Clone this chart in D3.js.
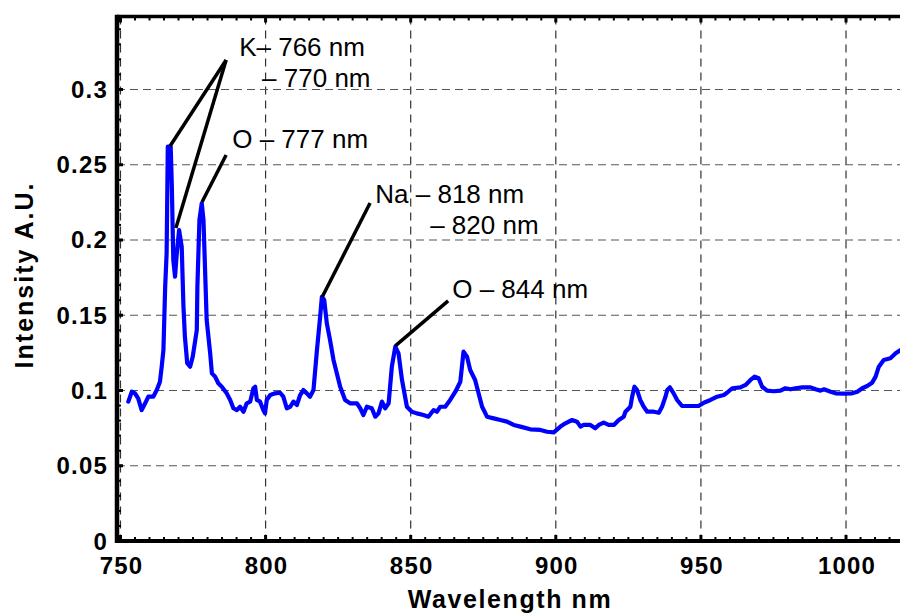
<!DOCTYPE html>
<html><head><meta charset="utf-8">
<script src="https://cdn.jsdelivr.net/npm/d3@7"></script>
<style>body{margin:0;background:#fff}svg{display:block}</style>
</head><body>
<svg id="c" width="900" height="613"></svg>
<script>
const wavelength = [752.7,753.9,755.0,756.1,757.3,758.5,759.6,761.3,762.5,763.6,764.2,764.8,765.4,765.9,766.3,767.3,767.7,768.2,768.8,769.4,770.2,771.1,771.7,772.2,773.0,774.0,774.9,776.3,776.5,777.2,778.0,778.6,779.7,780.9,781.5,
782.6,783.7,784.9,786.6,787.8,788.9,790.1,791.2,792.4,793.5,794.7,795.8,796.4,797.0,798.1,799.2,799.8,800.4,801.6,803.3,805.0,806.1,807.3,808.5,809.6,810.8,811.9,813.0,814.2,815.3,816.5,
817.7,818.8,819.4,820.2,821.1,822.2,823.4,825.7,827.4,829.1,831.5,832.6,833.7,834.9,836.6,837.8,838.9,840.1,841.2,842.4,843.5,844.7,845.8,847.0,848.7,850.4,852.1,854.4,856.1,857.9,859.0,860.2,861.9,863.6,865.4,867.1,868.2,869.4,870.5,872.2,874.6,876.3,878.6,880.9,883.2,885.5,887.8,891.2,894.7,897.0,
899.3,901.6,903.3,905.6,907.3,908.5,909.6,911.9,913.6,914.8,916.5,918.2,920.0,921.7,923.4,924.0,925.7,926.3,927.1,928.0,929.1,930.3,931.5,933.8,935.5,936.6,937.8,938.4,939.3,940.6,941.8,943.5,946.4,949.2,951.0,953.3,955.6,957.9,959.0,960.8,963.6,965.4,967.1,968.5,969.9,971.1,972.8,975.1,977.4,979.1,980.9,982.6,984.9,987.8,989.5,991.2,992.4,994.7,996.4,999.3,1002.1,1003.9,1005.6,1007.3,1009.0,1010.2,1011.3,1013.0,1015.3,1017.1,1018.8,1020.5];
const intensity = [0.0926,0.0992,0.0981,0.0948,0.0870,0.0915,0.0959,0.0959,0.1003,0.1058,0.1158,0.1269,0.1690,0.1912,0.2620,0.2620,0.2354,0.1867,0.1756,0.1912,0.2066,0.1955,0.1557,0.1357,0.1181,0.1158,0.1225,0.1402,0.1690,0.2133,0.2244,0.2133,0.1468,0.1247,0.1114,
0.1092,0.1048,0.1025,0.0981,0.0937,0.0882,0.0870,0.0892,0.0859,0.0915,0.0926,0.1015,0.1025,0.0937,0.0926,0.0870,0.0848,0.0937,0.0970,0.0981,0.0985,0.0959,0.0882,0.0892,0.0926,0.0904,0.0970,0.1003,0.0981,0.0959,0.1003,
0.1269,0.1490,0.1623,0.1601,0.1446,0.1336,0.1203,0.1025,0.0937,0.0915,0.0915,0.0882,0.0837,0.0892,0.0882,0.0826,0.0848,0.0926,0.0882,0.0915,0.1158,0.1291,0.1247,0.1070,0.0892,0.0859,0.0848,0.0837,0.0826,0.0870,0.0859,0.0892,0.0892,0.0937,0.0992,0.1058,0.1258,0.1225,0.1136,0.1070,0.0892,0.0826,0.0815,0.0804,0.0793,0.0771,0.0760,0.0742,0.0738,0.0726,
0.0722,0.0760,0.0782,0.0804,0.0793,0.0760,0.0771,0.0771,0.0749,0.0771,0.0786,0.0771,0.0771,0.0804,0.0826,0.0859,0.0892,0.0959,0.1025,0.1003,0.0937,0.0892,0.0859,0.0859,0.0852,0.0892,0.0959,0.1003,0.1021,0.0981,0.0937,0.0897,0.0897,0.0897,0.0919,0.0937,0.0959,0.0970,0.0985,0.1015,0.1021,0.1037,0.1070,0.1092,0.1081,0.1025,0.0999,0.0995,0.0999,0.1015,0.1008,0.1015,0.1021,0.1021,0.1008,0.0999,0.1008,0.0992,0.0981,0.0979,0.0981,0.0992,0.1015,0.1030,0.1052,0.1092,0.1158,0.1203,0.1214,0.1247,0.1269,0.1285];

const xTicks = [750,800,850,900,950,1000];
const yTicks = [0,0.05,0.1,0.15,0.2,0.25,0.3];
const yTickLabels = ["0","0.05","0.1","0.15","0.2","0.25","0.3"];

// annotations: leader lines [x1,y1,x2,y2] in data units, and label texts
const leaderLines = [
  [767.1,0.2625,786.4,0.3196],
  [769.1,0.2080,786.4,0.3196],
  [778.1,0.2252,786.4,0.2565],
  [819.5,0.1621,836.0,0.2246],
  [844.7,0.1296,862.9,0.1595]
];
const labelTexts = ["K\u2013 766 nm","\u2013 770 nm","O \u2013 777 nm","Na \u2013 818 nm","\u2013 820 nm","O \u2013 844 nm"];
const labelPos = [[790.9,0.3223],[798.8,0.3017],[788.5,0.2611],[837.8,0.2246],[856.7,0.2040],[864.3,0.1615]];

(function(){
const svg = d3.select("#c");
const L = 117, R = 900, T = 16.5, B = 541;
const x = d3.scaleLinear().domain([748.8, 1018.6]).range([L, R]);
const y = d3.scaleLinear().domain([0, 0.3485]).range([B, T]);

svg.append("defs").append("clipPath").attr("id","clip")
  .append("rect").attr("x",L).attr("y",T).attr("width",R-L+5).attr("height",B-T);

// grid
const grid = svg.append("g");
grid.append("g").selectAll("line").data(xTicks).join("line")
  .attr("x1",d=>x(d)).attr("x2",d=>x(d)).attr("y1",T).attr("y2",B)
  .attr("stroke","#333").attr("stroke-width",1.2).attr("stroke-dasharray","8,6");
grid.append("g").selectAll("line").data(yTicks.slice(1)).join("line")
  .attr("x1",L).attr("x2",R).attr("y1",d=>y(d)).attr("y2",d=>y(d))
  .attr("stroke","#555").attr("stroke-width",1.2).attr("stroke-dasharray","8,5");

// minor ticks
const xMinor = d3.range(750, 1020, 5);
const yMinor = d3.range(0, 0.345, 0.01);
const tk = svg.append("g").attr("stroke","#000");
tk.append("g").selectAll("line").data(xMinor).join("line")
  .attr("x1",d=>x(d)).attr("x2",d=>x(d)).attr("y1",B).attr("y2",d=>B-(d%50===0?6:4))
  .attr("stroke-width",d=>d%50===0?3:2);
tk.append("g").selectAll("line").data(xMinor).join("line")
  .attr("x1",d=>x(d)).attr("x2",d=>x(d)).attr("y1",T).attr("y2",d=>T+(d%50===0?6:4))
  .attr("stroke-width",d=>d%50===0?3:2);
tk.append("g").selectAll("line").data(yMinor).join("line")
  .attr("x1",L).attr("x2",(d,i)=>L+(i%5===0?6:4)).attr("y1",d=>y(d)).attr("y2",d=>y(d))
  .attr("stroke-width",(d,i)=>i%5===0?3:2);

// data line
svg.append("path").datum(wavelength.map((w,i)=>[w,intensity[i]]))
  .attr("clip-path","url(#clip)")
  .attr("fill","none").attr("stroke","#0000ff").attr("stroke-width",4.2)
  .attr("stroke-linejoin","round").attr("stroke-linecap","round")
  .attr("d", d3.line().x(d=>x(d[0])).y(d=>y(d[1])));

// axes frame
svg.append("line").attr("x1",L).attr("x2",R).attr("y1",B).attr("y2",B)
  .attr("stroke","#000").attr("stroke-width",4);
svg.append("line").attr("x1",L).attr("x2",R).attr("y1",T).attr("y2",T)
  .attr("stroke","#000").attr("stroke-width",3.5);
svg.append("line").attr("x1",L).attr("x2",L).attr("y1",T-1.7).attr("y2",B+2)
  .attr("stroke","#000").attr("stroke-width",4.5);

// tick labels
const font = "Liberation Sans, Arial, Helvetica, sans-serif";
svg.append("g").selectAll("text").data(xTicks).join("text")
  .attr("x",d=>x(d)+1).attr("y",574).attr("text-anchor","middle")
  .attr("font-family",font).attr("font-weight","bold").attr("font-size",24)
  .attr("letter-spacing",1.2).text(d=>d);
svg.append("g").selectAll("text").data(yTicks).join("text")
  .attr("x",108).attr("y",d=>y(d)+8.5).attr("text-anchor","end")
  .attr("font-family",font).attr("font-weight","bold").attr("font-size",24)
  .attr("letter-spacing",1.2).text((d,i)=>yTickLabels[i]);

// axis titles
svg.append("text").attr("x",510).attr("y",608).attr("text-anchor","middle")
  .attr("font-family",font).attr("font-weight","bold").attr("font-size",25)
  .attr("letter-spacing",1.6).text("Wavelength nm");
svg.append("text").attr("transform","translate(33,275) rotate(-90)").attr("text-anchor","middle")
  .attr("font-family",font).attr("font-weight","bold").attr("font-size",25)
  .attr("letter-spacing",2).text("Intensity A.U.");

// annotations
svg.append("g").selectAll("line").data(leaderLines).join("line")
  .attr("x1",d=>x(d[0])).attr("y1",d=>y(d[1])).attr("x2",d=>x(d[2])).attr("y2",d=>y(d[3]))
  .attr("stroke","#000").attr("stroke-width",3.5);
svg.append("g").selectAll("text").data(labelTexts).join("text")
  .attr("x",(d,i)=>x(labelPos[i][0])).attr("y",(d,i)=>y(labelPos[i][1]))
  .attr("font-family",font).attr("font-size",26).attr("fill","#000").text(d=>d);
})();
</script>
</body></html>
